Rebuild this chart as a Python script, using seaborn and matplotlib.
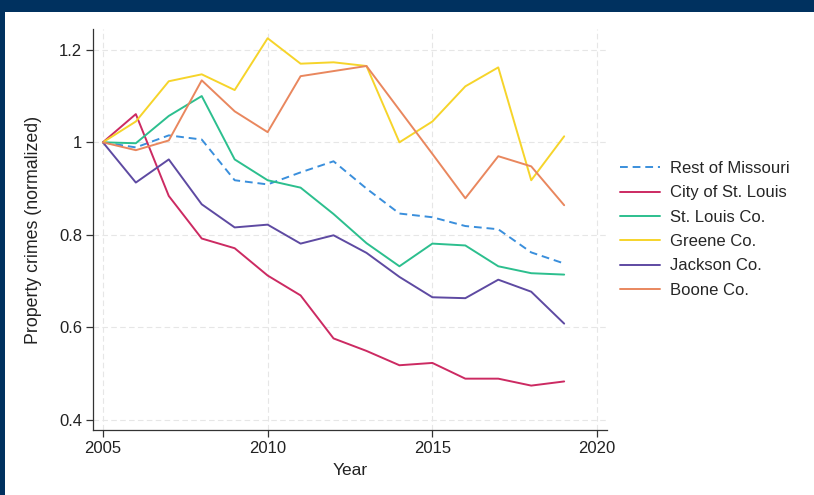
import matplotlib
matplotlib.use("Agg")
import matplotlib.pyplot as plt
from matplotlib.patches import Rectangle
from matplotlib.ticker import FuncFormatter
import seaborn as sns
import pandas as pd

years = list(range(2005, 2020))

rest_of_missouri = [1.0, 0.989, 1.015, 1.006, 0.918, 0.909, 0.935, 0.959, 0.900,
                    0.846, 0.838, 0.819, 0.812, 0.762, 0.738]
city_of_st_louis = [1.0, 1.061, 0.884, 0.792, 0.771, 0.712, 0.669, 0.576, 0.549,
                    0.518, 0.523, 0.489, 0.489, 0.474, 0.483]
st_louis_co = [1.0, 0.998, 1.057, 1.100, 0.963, 0.918, 0.902, 0.845, 0.782,
               0.732, 0.781, 0.777, 0.732, 0.717, 0.714]
greene_co = [1.0, 1.045, 1.132, 1.147, 1.113, 1.225, 1.170, 1.173, 1.165,
             1.000, 1.045, 1.121, 1.162, 0.918, 1.013]
jackson_co = [1.0, 0.913, 0.963, 0.866, 0.816, 0.822, 0.781, 0.799, 0.761,
              0.709, 0.665, 0.663, 0.703, 0.677, 0.608]
boone_co = [1.0, 0.983, 1.004, 1.134, 1.067, 1.022, 1.143, 1.154, 1.165,
            1.070, 0.975, 0.879, 0.970, 0.948, 0.864]

series_names = ["Rest of Missouri", "City of St. Louis", "St. Louis Co.",
                "Greene Co.", "Jackson Co.", "Boone Co."]
series_values = [rest_of_missouri, city_of_st_louis, st_louis_co,
                 greene_co, jackson_co, boone_co]

colors = ["#3a8fdc", "#cc2a62", "#2cbf8e", "#f6d42a", "#5e4aa2", "#e9875e"]

df = pd.DataFrame(
    [(y, name, v) for name, vals in zip(series_names, series_values)
     for y, v in zip(years, vals)],
    columns=["Year", "Area", "Value"],
)

sns.set_theme(style="white")
plt.rcParams["font.family"] = ["Liberation Sans", "DejaVu Sans"]

fig = plt.figure(figsize=(8.14, 4.95), dpi=100)
fig.patch.set_facecolor("#00315f")
# white panel inside the navy frame
fig.patches.append(Rectangle((5 / 814, 0), 1 - 5 / 814, 1 - 12 / 495,
                             transform=fig.transFigure, facecolor="white",
                             edgecolor="none", zorder=-10))

ax = fig.add_axes([93 / 814, 1 - 430 / 495, (607 - 93) / 814, (430 - 29) / 495])
ax.set_facecolor("white")

dashes = {n: (4, 2.5) if n == "Rest of Missouri" else "" for n in series_names}
sns.lineplot(data=df, x="Year", y="Value", hue="Area", style="Area",
             hue_order=series_names, style_order=series_names,
             palette=dict(zip(series_names, colors)), dashes=dashes,
             linewidth=1.4, ax=ax, legend=True)

ax.set_xlim(2004.7, 2020.3)
ax.set_ylim(0.378, 1.245)
ax.set_xticks([2005, 2010, 2015, 2020])
ax.set_yticks([0.4, 0.6, 0.8, 1.0, 1.2])
ax.yaxis.set_major_formatter(FuncFormatter(lambda v, _: f"{v:g}"))

ax.grid(True, color="#e6e6e6", linestyle=(0, (5, 3)), linewidth=0.8)
ax.set_axisbelow(True)
for side in ["top", "right"]:
    ax.spines[side].set_visible(False)
for side in ["left", "bottom"]:
    ax.spines[side].set_color("#333333")
    ax.spines[side].set_linewidth(0.9)
ax.tick_params(axis="both", which="major", direction="out", length=5, width=0.9,
               color="#333333", labelsize=12, labelcolor="#222222",
               left=True, bottom=True, pad=3)

ax.set_xlabel("Year", fontsize=12.5, color="#222222", labelpad=5)
ax.set_ylabel("Property crimes (normalized)", fontsize=12.8, color="#222222",
              labelpad=12)

handles, labels = ax.get_legend_handles_labels()
ax.legend(handles, labels, loc="center left", bbox_to_anchor=(1.0, 0.5),
          frameon=False, fontsize=12, handlelength=2.4, handletextpad=0.6,
          labelspacing=0.56, borderaxespad=0.4)

fig.savefig("out.png", dpi=100, facecolor=fig.get_facecolor())
